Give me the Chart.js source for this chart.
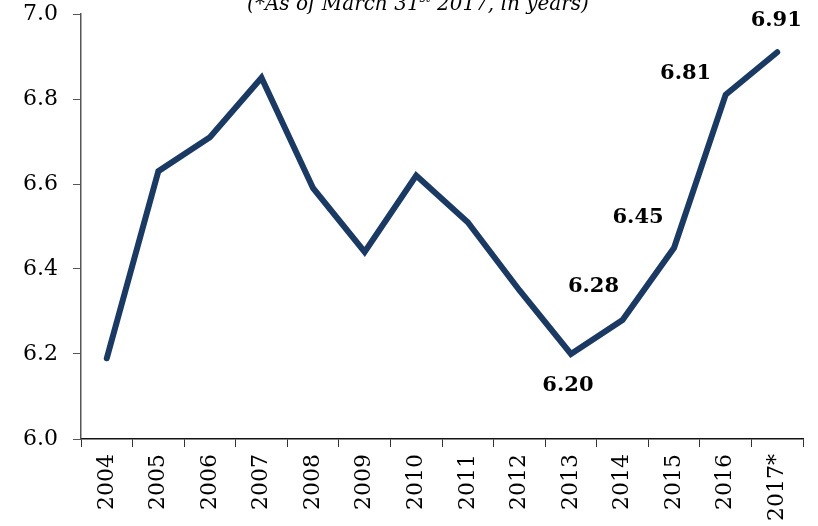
<!DOCTYPE html>
<html>
  <head>
    <style>
      html { background: #FFFFFF; }
      body { margin: 0; }
      #chart-container { width: 818px; height: 526px; position: relative; }
    </style>
  </head>
  <body>
    <div id="chart-container">
      <canvas id="chart"></canvas>
    </div>

    <script src="https://cdn.jsdelivr.net/npm/chart.js"></script>
    <script>
      const years = ["2004", "2005", "2006", "2007", "2008", "2009", "2010",
                     "2011", "2012", "2013", "2014", "2015", "2016", "2017*"];
      const avgYears = [6.19, 6.63, 6.71, 6.85, 6.59, 6.44, 6.62,
                        6.51, 6.35, 6.20, 6.28, 6.45, 6.81, 6.91];
      const yTicks = [6.0, 6.2, 6.4, 6.6, 6.8, 7.0];
      const labelledIdx = [9, 10, 11, 12, 13];
      // where each value label sits relative to its point
      const labelOffsets = {
        9:  [-3, 32],
        10: [-29, -33],
        11: [-36, -30],
        12: [-40, -21],
        13: [-1, -32]
      };

      const lineColor = '#1B3A63';
      const serif = "'DejaVu Serif', serif";

      const valueLabels = {
        id: 'valueLabels',
        afterDatasetsDraw(chart) {
          const ctx = chart.ctx;
          const meta = chart.getDatasetMeta(0);
          ctx.save();
          ctx.font = "bold 21px " + serif;
          ctx.fillStyle = '#000';
          ctx.textAlign = 'center';
          ctx.textBaseline = 'middle';
          labelledIdx.forEach(function (i) {
            const pt = meta.data[i];
            const off = labelOffsets[i];
            ctx.fillText(avgYears[i].toFixed(2), pt.x + off[0], pt.y + off[1]);
          });
          ctx.restore();
        }
      };

      // the subtitle is cut off at the top edge in the original
      const subtitle = {
        id: 'subtitle',
        afterDraw(chart) {
          const ctx = chart.ctx;
          ctx.save();
          ctx.fillStyle = '#000';
          ctx.textBaseline = 'alphabetic';
          const a = "(*As of March 31";
          const sup = "st";
          const b = " 2017, in years)";
          ctx.font = "italic 20px " + serif;
          const wa = ctx.measureText(a).width;
          const wb = ctx.measureText(b).width;
          ctx.font = "italic 12px " + serif;
          const ws = ctx.measureText(sup).width;
          let x = 418 - (wa + ws + wb) / 2;
          const y = 10;
          ctx.font = "italic 20px " + serif;
          ctx.fillText(a, x, y);
          x += wa;
          ctx.font = "italic 12px " + serif;
          ctx.fillText(sup, x, y - 8);
          x += ws;
          ctx.font = "italic 20px " + serif;
          ctx.fillText(b, x, y);
          ctx.restore();
        }
      };

      new Chart(document.getElementById('chart'), {
        type: 'line',
        data: {
          labels: years,
          datasets: [{
            data: avgYears,
            borderColor: lineColor,
            backgroundColor: lineColor,
            borderWidth: 6,
            borderCapStyle: 'round',
            borderJoinStyle: 'miter',
            pointRadius: 0,
            tension: 0,
            fill: false
          }]
        },
        options: {
          responsive: true,
          maintainAspectRatio: false,
          animation: false,
          layout: { padding: { top: 14, right: 15, left: 0, bottom: 0 } },
          plugins: {
            legend: { display: false },
            tooltip: { enabled: false }
          },
          scales: {
            x: {
              offset: true,
              grid: {
                offset: true,
                drawOnChartArea: false,
                drawTicks: true,
                tickLength: 8,
                color: '#333'
              },
              border: { color: '#111', width: 1.5 },
              ticks: {
                color: '#000',
                font: { family: serif, size: 22 },
                minRotation: 90,
                maxRotation: 90,
                padding: 7,
                autoSkip: false
              },
              afterFit: function (scale) {
                scale.height = 87;
                scale.paddingLeft = 0;
                scale.paddingRight = 0;
                scale.paddingTop = 0;
              }
            },
            y: {
              min: 6.0,
              max: 7.0,
              afterBuildTicks: function (scale) {
                scale.ticks = yTicks.map(v => ({ value: v }));
              },
              grid: {
                drawOnChartArea: false,
                drawTicks: true,
                tickLength: 8,
                color: '#555'
              },
              border: { color: '#555', width: 1.5 },
              ticks: {
                color: '#000',
                font: { family: serif, size: 22 },
                padding: 15,
                callback: function (value) { return Number(value).toFixed(1); }
              },
              afterFit: function (scale) {
                scale.width = 81;
                scale.paddingTop = 0;
                scale.paddingBottom = 0;
              }
            }
          }
        },
        plugins: [valueLabels, subtitle]
      });
    </script>
  </body>
</html>
